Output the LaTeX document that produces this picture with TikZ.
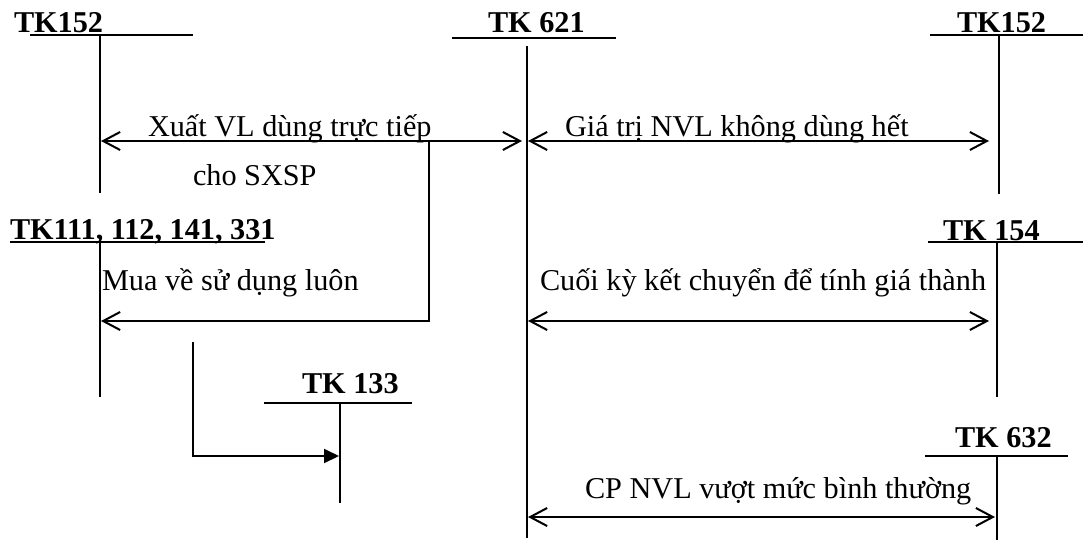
\documentclass[tikz,border=0pt]{standalone}
\usepackage{fontspec}
\setmainfont{Liberation Serif}
\usetikzlibrary{arrows.meta}
\begin{document}
\begin{tikzpicture}[x=0.4pt,y=-0.4pt,
  every node/.style={inner sep=0pt,outer sep=0pt,font=\fontsize{12.1pt}{14pt}\selectfont},
  acct/.style={anchor=base west,font=\fontsize{12.1pt}{14pt}\selectfont\bfseries},
  txt/.style={anchor=base west},
  tline/.style={line width=0.8pt},
  flow/.style={line width=0.8pt,{Straight Barb[length=6.8pt,width=7.2pt,line width=0.8pt]}-{Straight Barb[length=6.8pt,width=7.2pt,line width=0.8pt]}},
  flowl/.style={line width=0.8pt,-{Straight Barb[length=6.8pt,width=7.2pt,line width=0.8pt]}},
  flowt/.style={line width=0.8pt,-{Triangle[length=6pt,width=5.6pt]}}]
\useasboundingbox (0,0) rectangle (1083,540);

% account headings
\node[acct] (k152a) at (14,32) {TK152};
\node[acct] (k621)  at (488,32) {TK 621};
\node[acct] (k152b) at (957,32) {TK152};
\node[acct] (k111)  at (10,239) {TK111, 112, 141, 331};
\node[acct] (k154)  at (943,240) {TK 154};
\node[acct] (k133)  at (302,393) {TK 133};
\node[acct] (k632)  at (955,447) {TK 632};

% T-account bars and stems
\coordinate (a1) at (100,35);  \coordinate (a2) at (100,193);
\draw[tline] (30,35) -- (193,35);
\draw[tline] (a1) -- (a2);

\coordinate (b1) at (527,46);  \coordinate (b2) at (527,538);
\draw[tline] (452,38) -- (616,38);
\draw[tline] (b1) -- (b2);

\coordinate (c1) at (999,35);  \coordinate (c2) at (999,194);
\draw[tline] (930,35) -- (1083,35);
\draw[tline] (c1) -- (c2);

\coordinate (d1) at (100,242); \coordinate (d2) at (100,397);
\draw[tline] (10,242) -- (265,242);
\draw[tline] (d1) -- (d2);

\coordinate (e1) at (997,242); \coordinate (e2) at (997,397);
\draw[tline] (928,242) -- (1083,242);
\draw[tline] (e1) -- (e2);

\coordinate (f1) at (340,403); \coordinate (f2) at (340,503);
\draw[tline] (264,403) -- (412,403);
\draw[tline] (f1) -- (f2);

\coordinate (g1) at (997,456); \coordinate (g2) at (997,540);
\draw[tline] (925,456) -- (1068,456);
\draw[tline] (g1) -- (g2);

% entries
\coordinate (x1) at (101,141); \coordinate (x2) at (522,141);
\draw[flow] (x1) -- (x2);
\node[txt] (t1) at (148,136) {Xuất VL dùng trực tiếp};
\node[txt] (t2) at (193,185) {cho SXSP};

\coordinate (y1) at (528,141); \coordinate (y2) at (989,141);
\draw[flow] (y1) -- (y2);
\node[txt] (t3) at (565,136) {Giá trị NVL không dùng hết};

\coordinate (m0) at (429,141); \coordinate (m1) at (429,321); \coordinate (m2) at (101,321);
\draw[flowl] (m0) -- (m1) -- (m2);
\node[txt] (t4) at (102,290) {Mua về sử dụng luôn};

\coordinate (z1) at (528,321); \coordinate (z2) at (989,321);
\draw[flow] (z1) -- (z2);
\node[txt] (t5) at (540,290) {Cuối kỳ kết chuyển để tính giá thành};

\coordinate (v0) at (193,342); \coordinate (v1) at (193,456); \coordinate (v2) at (339,456);
\draw[flowt] (v0) -- (v1) -- (v2);

\coordinate (w1) at (528,517); \coordinate (w2) at (995,517);
\draw[flow] (w1) -- (w2);
\node[txt] (t6) at (585,498) {CP NVL vượt mức bình thường};
\end{tikzpicture}
\end{document}
